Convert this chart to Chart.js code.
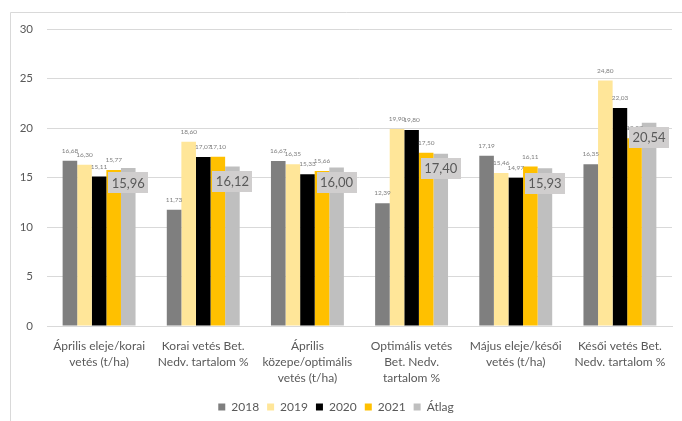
<!DOCTYPE html>
<html lang="hu">
<head>
<meta charset="utf-8">
<title>Vetésidő és betakarításkori nedvességtartalom</title>
<script src="https://cdn.jsdelivr.net/npm/chart.js@4.4.1/dist/chart.umd.min.js"></script>
<style>
  html, body { margin: 0; padding: 0; background: #fff; }
  canvas { display: block; }
</style>
</head>
<body>
<canvas id="myChart" width="682" height="421"></canvas>
<script>
// Kategóriák (vetésidő / nedvességtartalom)
const categories = [
    ["Április eleje/korai", "vetés (t/ha)"],
    ["Korai vetés Bet.", "Nedv. tartalom %"],
    ["Április", "közepe/optimális", "vetés (t/ha)"],
    ["Optimális vetés", "Bet. Nedv.", "tartalom %"],
    ["Május eleje/késői", "vetés (t/ha)"],
    ["Késői vetés Bet.", "Nedv. tartalom %"],
];

const values2018 = [16.68, 11.73, 16.67, 12.39, 17.19, 16.35];
const values2019 = [16.30, 18.60, 16.35, 19.90, 15.46, 24.80];
const values2020 = [15.11, 17.07, 15.33, 19.80, 14.97, 22.03];
const values2021 = [15.77, 17.10, 15.66, 17.50, 16.11, 18.97];
const valuesAtlag = [15.96, 16.12, 16.00, 17.40, 15.93, 20.54];

const yTicks = [0, 5, 10, 15, 20, 25, 30];

const textColor = "#595959";
const gridColor = "#d9d9d9";
const fontFamily = "Lato, 'Open Sans', sans-serif";

const fmt = v => v.toFixed(2).replace(".", ",");

// keret a diagram körül
const frame = {
    id: "frame",
    beforeDraw(chart) {
        const {ctx, width, height} = chart;
        ctx.save();
        ctx.fillStyle = "#fff";
        ctx.fillRect(0, 0, width, height);
        ctx.strokeStyle = gridColor;
        ctx.lineWidth = 1;
        ctx.beginPath();
        ctx.moveTo(10.5, height);
        ctx.lineTo(10.5, 12.5);
        ctx.lineTo(width, 12.5);
        ctx.stroke();
        ctx.restore();
    },
};

// értékcímkék: évek kis szürke felirat, átlag szürke dobozban
const valueLabels = {
    id: "valueLabels",
    afterDatasetsDraw(chart) {
        const {ctx} = chart;
        ctx.save();
        ctx.textAlign = "center";
        ctx.textBaseline = "middle";

        chart.data.datasets.forEach((ds, i) => {
            if (ds.label === "Átlag") return;
            const meta = chart.getDatasetMeta(i);
            ctx.font = "6.5px " + fontFamily;
            ctx.fillStyle = "#7f7f7f";
            meta.data.forEach((bar, j) => {
                ctx.fillText(fmt(ds.data[j]), bar.x, bar.y - 10);
            });
        });

        const avgIndex = chart.data.datasets.findIndex(ds => ds.label === "Átlag");
        const avgMeta = chart.getDatasetMeta(avgIndex);
        avgMeta.data.forEach((bar, j) => {
            const w = 40, h = 21;
            const cy = bar.y + 15;
            ctx.fillStyle = "#d0cece";
            ctx.fillRect(Math.round(bar.x - w / 2), Math.round(cy - h / 2), w, h);
            ctx.font = "13px " + fontFamily;
            ctx.fillStyle = textColor;
            ctx.fillText(fmt(valuesAtlag[j]), bar.x, cy + 0.5);
        });
        ctx.restore();
    },
};

const ctx = document.getElementById("myChart").getContext("2d");
new Chart(ctx, {
    type: "bar",
    data: {
        labels: categories,
        datasets: [
            {label: "2018", data: values2018, backgroundColor: "#7f7f7f"},
            {label: "2019", data: values2019, backgroundColor: "#ffe699"},
            {label: "2020", data: values2020, backgroundColor: "#000000"},
            {label: "2021", data: values2021, backgroundColor: "#ffc000"},
            {label: "Átlag", data: valuesAtlag, backgroundColor: "#bfbfbf"},
        ],
    },
    options: {
        responsive: false,
        animation: false,
        devicePixelRatio: 1,
        layout: {padding: {top: 29, right: 10, left: 0, bottom: -2}},
        datasets: {bar: {categoryPercentage: 0.7, barPercentage: 1}},
        plugins: {
            legend: {
                position: "bottom",
                labels: {
                    boxWidth: 7,
                    boxHeight: 7,
                    padding: 8,
                    color: textColor,
                    font: {family: fontFamily, size: 12},
                },
            },
            tooltip: {enabled: false},
        },
        scales: {
            x: {
                grid: {display: false, drawTicks: false},
                border: {color: gridColor},
                ticks: {
                    color: textColor,
                    padding: 12,
                    maxRotation: 0,
                    autoSkip: false,
                    font: {family: fontFamily, size: 12, lineHeight: 1.34},
                },
                afterFit(scale) { scale.height = 67; },
            },
            y: {
                min: 0,
                max: 30,
                afterBuildTicks(scale) { scale.ticks = yTicks.map(v => ({value: v})); },
                grid: {color: gridColor, drawTicks: false},
                border: {display: false},
                ticks: {
                    color: textColor,
                    padding: 14,
                    font: {family: fontFamily, size: 11.5},
                },
                afterFit(scale) { scale.width = 47; },
            },
        },
    },
    plugins: [frame, valueLabels],
});
</script>
</body>
</html>
